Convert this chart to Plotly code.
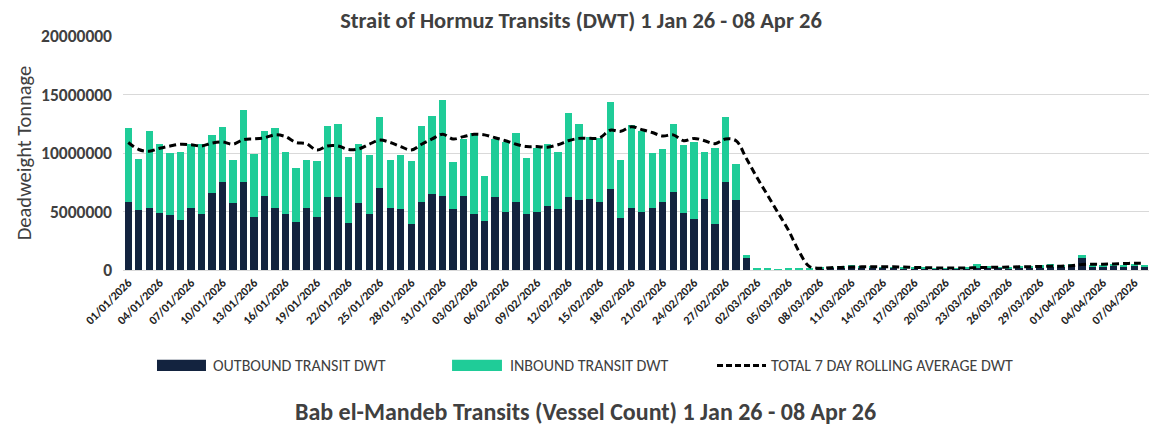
import pandas as pd
import plotly.graph_objects as go

# Categories: daily dates 01/01/2026 - 08/04/2026
dates = [d.strftime("%d/%m/%Y") for d in pd.date_range("2026-01-01", "2026-04-08", freq="D")]
tick_labels = dates[::3]

# Values in million DWT
outbound_m = [
    5.8, 5.1, 5.3, 4.9, 4.7, 4.25, 5.3, 4.8, 6.6, 7.5,
    5.7, 7.5, 4.5, 6.35, 5.3, 4.8, 4.1, 5.3, 4.5, 6.2,
    6.2, 4.0, 5.7, 4.8, 7.0, 5.3, 5.2, 3.9, 5.8, 6.5,
    6.35, 5.2, 6.3, 4.8, 4.2, 6.2, 5.0, 5.8, 4.8, 5.0,
    5.5, 5.2, 6.2, 6.0, 6.1, 5.8, 6.9, 4.45, 5.3, 5.0,
    5.3, 5.8, 6.7, 4.9, 4.4, 6.1, 3.9, 7.5, 5.95, 1.1,
    0.02, 0.0, 0.02, 0.0, 0.0, 0.05, 0.15, 0.2, 0.2, 0.25,
    0.2, 0.25, 0.2, 0.2, 0.15, 0.15, 0.15, 0.1, 0.1, 0.1,
    0.15, 0.2, 0.2, 0.2, 0.15, 0.2, 0.2, 0.2, 0.25, 0.3,
    0.35, 1.0, 0.3, 0.3, 0.35, 0.3, 0.3, 0.3,
]
inbound_m = [
    6.3, 4.4, 6.6, 5.9, 5.3, 5.85, 5.5, 6.0, 4.9, 4.7,
    3.7, 6.15, 5.4, 5.55, 6.8, 5.3, 4.6, 4.1, 4.8, 6.1,
    6.3, 5.7, 5.1, 5.0, 6.1, 4.1, 4.6, 5.4, 6.5, 6.7,
    8.15, 4.0, 4.9, 6.9, 3.8, 5.0, 5.9, 5.9, 4.8, 5.4,
    5.3, 4.9, 7.2, 6.5, 5.3, 5.5, 7.5, 4.95, 7.1, 6.9,
    4.7, 4.5, 5.8, 5.8, 6.5, 4.0, 6.5, 5.6, 3.15, 0.15,
    0.13, 0.1, 0.03, 0.1, 0.1, 0.05, 0.05, 0.05, 0.1, 0.2,
    0.1, 0.05, 0.05, 0.05, 0.05, 0.05, 0.05, 0.05, 0.05, 0.05,
    0.05, 0.3, 0.1, 0.05, 0.1, 0.1, 0.1, 0.2, 0.3, 0.1,
    0.1, 0.3, 0.1, 0.05, 0.1, 0.05, 0.25, 0.1,
]
rolling_avg_m = [
    10.9, 10.3, 10.15, 10.4, 10.6, 10.75, 10.7, 10.6, 10.85, 10.95,
    10.75, 11.15, 11.2, 11.3, 11.55, 11.4, 10.9, 10.8, 10.25, 10.6,
    10.6, 10.3, 10.35, 10.75, 11.1, 10.9, 10.55, 10.25, 10.75, 11.2,
    11.6, 11.2, 11.4, 11.6, 11.55, 11.3, 11.05, 10.75, 10.55, 10.55,
    10.5, 10.7, 11.05, 11.25, 11.25, 11.3, 11.95, 11.85, 12.25, 12.0,
    11.75, 11.45, 11.55, 11.05, 11.25, 11.05, 10.8, 11.2, 11.05, 9.5,
    7.9, 6.4, 4.9, 3.4, 1.6, 0.3, 0.15, 0.2, 0.22, 0.25,
    0.27, 0.28, 0.27, 0.27, 0.25, 0.22, 0.2, 0.18, 0.17, 0.17,
    0.17, 0.2, 0.22, 0.24, 0.25, 0.27, 0.28, 0.3, 0.33, 0.33,
    0.36, 0.48, 0.5, 0.5, 0.52, 0.55, 0.58, 0.58,
]

series_names = ["OUTBOUND TRANSIT DWT", "INBOUND TRANSIT DWT", "TOTAL 7 DAY ROLLING AVERAGE DWT"]

outbound = [v * 1e6 for v in outbound_m]
inbound = [v * 1e6 for v in inbound_m]
rolling = [v * 1e6 for v in rolling_avg_m]

NAVY = "#13233f"
TEAL = "#1fcc98"
TXT = "#404040"
FONT = "Carlito, Liberation Sans Narrow, Open Sans, sans-serif"
LINE_DASH = "7px,4px"

fig = go.Figure()
fig.add_trace(go.Bar(x=dates, y=outbound, name=series_names[0],
                     marker=dict(color=NAVY, line=dict(width=0))))
fig.add_trace(go.Bar(x=dates, y=inbound, name=series_names[1],
                     marker=dict(color=TEAL, line=dict(width=0))))
fig.add_trace(go.Scatter(x=dates, y=rolling, name=series_names[2],
                         mode="lines",
                         line=dict(color="black", width=3, dash=LINE_DASH, shape="spline")))

# Legend drawn below the plot (wide swatches as in the original)
LEG_Y = -0.408
legend_shapes = [
    dict(type="rect", xref="paper", yref="paper", x0=0.0331, x1=0.0808, y0=-0.384, y1=-0.432,
         fillcolor=NAVY, line=dict(width=0)),
    dict(type="rect", xref="paper", yref="paper", x0=0.3204, x1=0.3690, y0=-0.384, y1=-0.432,
         fillcolor=TEAL, line=dict(width=0)),
    dict(type="line", xref="paper", yref="paper", x0=0.5784, x1=0.6261, y0=LEG_Y, y1=LEG_Y,
         line=dict(color="black", width=3, dash="6px,3px")),
]
legend_text_x = [0.0857, 0.3749, 0.6290]
legend_annotations = [
    dict(text=name, xref="paper", yref="paper", x=lx, y=LEG_Y, xanchor="left", yanchor="middle",
         showarrow=False, font=dict(size=16, color=TXT, family=FONT))
    for name, lx in zip(series_names, legend_text_x)
]

fig.update_layout(
    width=1149, height=417,
    barmode="stack", bargap=0.3,
    plot_bgcolor="white", paper_bgcolor="white",
    margin=dict(l=115, r=7, t=28, b=155),
    font=dict(family=FONT, color=TXT),
    title=dict(text="<b>Strait of Hormuz Transits (DWT) 1 Jan 26 - 08 Apr 26</b>",
               x=0.4987, xanchor="center", y=0.972, yanchor="middle",
               font=dict(size=22.5, color=TXT, family=FONT)),
    showlegend=False,
    shapes=legend_shapes,
    annotations=legend_annotations + [
        dict(text="<b>Bab el-Mandeb Transits (Vessel Count) 1 Jan 26 - 08 Apr 26</b>",
             xref="paper", yref="paper", x=0.45, y=-0.603, xanchor="center",
             yanchor="middle", showarrow=False,
             font=dict(size=24, color=TXT, family=FONT))],
)
fig.update_xaxes(type="category", tickmode="array", tickvals=tick_labels, ticktext=tick_labels,
                 tickangle=-45, tickfont=dict(size=12, color="#222222", family=FONT, weight="bold"),
                 showgrid=False, showline=True, linecolor="#d9d9d9", ticks="")
fig.update_yaxes(range=[0, 20000000], dtick=5000000, tickformat="d",
                 showgrid=True, gridcolor="#d9d9d9", gridwidth=1, zeroline=False,
                 ticklabelstandoff=10,
                 tickfont=dict(size=17.5, color=TXT, family=FONT, weight="bold"),
                 title=dict(text="Deadweight Tonnage", font=dict(size=20.5, color=TXT, family=FONT),
                            standoff=3))

fig.write_html("out.html")
